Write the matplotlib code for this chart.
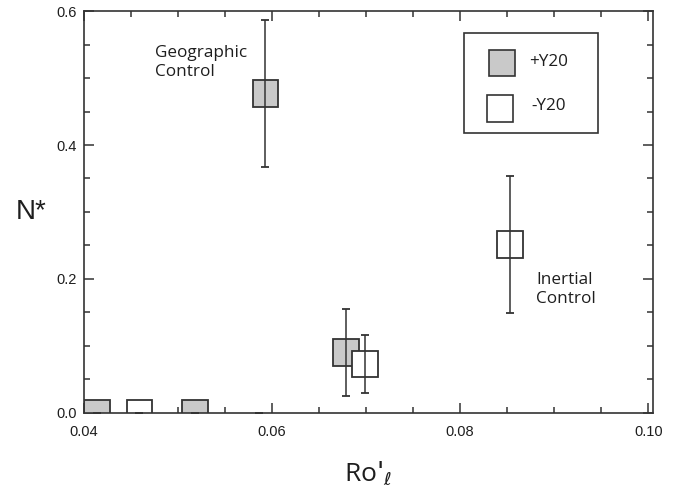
import matplotlib
matplotlib.use('Agg')
import matplotlib.pyplot as plt
from matplotlib.patches import Rectangle
from matplotlib.ticker import MultipleLocator, FormatStrFormatter

# data
plus_x = [0.0414, 0.0518, 0.0593, 0.0679]
plus_y = [0.0, 0.0, 0.477, 0.090]
plus_err = [0.0, 0.0, 0.110, 0.065]

minus_x = [0.0459, 0.0699, 0.0853]
minus_y = [0.0, 0.073, 0.251]
minus_err = [0.0, 0.043, 0.102]

# point at the axis with no visible box (only its cap shows)
extra_x = [0.0586]
extra_y = [0.0]

BOX_W = 0.00275
BOX_H = 0.040
GRAY = '#c9c9c9'
EDGE = '#333333'
TXT = '#1e1e1e'

plt.rcParams['font.family'] = ['Liberation Sans', 'DejaVu Sans']

fig = plt.figure(figsize=(6.85, 4.98), dpi=100)
ax = fig.add_axes([0.1226, 0.1707, 0.8306, 0.8072])

def boxes(xs, ys, face):
    for x, y in zip(xs, ys):
        ax.add_patch(Rectangle((x - BOX_W / 2, y - BOX_H / 2), BOX_W, BOX_H,
                               facecolor=face, edgecolor=EDGE, lw=1.3, zorder=2))

boxes(plus_x, plus_y, GRAY)
boxes(minus_x, minus_y, 'white')

for xs, ys, es in [(plus_x, plus_y, plus_err), (minus_x, minus_y, minus_err),
                   (extra_x, extra_y, [0.0])]:
    ax.errorbar(xs, ys, yerr=es, fmt='none', ecolor=EDGE, elinewidth=1.1,
                capsize=3, capthick=1.3, zorder=3, clip_on=False)

ax.set_xlim(0.04, 0.1005)
ax.set_ylim(0.0, 0.6)
ax.xaxis.set_major_locator(MultipleLocator(0.02))
ax.xaxis.set_minor_locator(MultipleLocator(0.005))
ax.yaxis.set_major_locator(MultipleLocator(0.2))
ax.yaxis.set_minor_locator(MultipleLocator(0.05))
ax.xaxis.set_major_formatter(FormatStrFormatter('%.2f'))
ax.yaxis.set_major_formatter(FormatStrFormatter('%.1f'))
ax.tick_params(which='both', direction='in', top=True, right=True,
               color=EDGE, width=1.1, labelsize=10.5, labelcolor=TXT)
ax.tick_params(which='major', length=7)
ax.tick_params(which='minor', length=4)
ax.tick_params(axis='x', pad=9)
ax.tick_params(axis='y', pad=5)
for s in ax.spines.values():
    s.set_color(EDGE)
    s.set_linewidth(1.2)

ax.set_ylabel('N*', fontsize=20, rotation=0, labelpad=18, va='center', color=TXT)
ax.set_xlabel(r"Ro$'_{\ell}$", fontsize=19, family=['Open Sans', 'DejaVu Sans'],
              labelpad=14, color=TXT)

ax.text(0.0475, 0.523, 'Geographic\nControl', fontsize=12.3, va='center',
        family=['Open Sans', 'DejaVu Sans'], linespacing=1.25, color=TXT)
ax.text(0.0881, 0.185, 'Inertial\nControl', fontsize=12.3, va='center',
        family=['Open Sans', 'DejaVu Sans'], linespacing=1.25, color=TXT)

# legend box drawn by hand
ax.add_patch(Rectangle((0.668, 0.697), 0.235, 0.248, transform=ax.transAxes,
                       facecolor='white', edgecolor=EDGE, lw=1.2, zorder=4))
ax.add_patch(Rectangle((0.711, 0.838), 0.046, 0.065, transform=ax.transAxes,
                       facecolor=GRAY, edgecolor=EDGE, lw=1.2, zorder=5))
ax.add_patch(Rectangle((0.708, 0.725), 0.046, 0.065, transform=ax.transAxes,
                       facecolor='white', edgecolor=EDGE, lw=1.2, zorder=5))
ax.text(0.782, 0.872, '+Y20', transform=ax.transAxes, fontsize=12.3, va='center',
        family=['Open Sans', 'DejaVu Sans'], color=TXT, zorder=6)
ax.text(0.787, 0.764, '-Y20', transform=ax.transAxes, fontsize=12.3, va='center',
        family=['Open Sans', 'DejaVu Sans'], color=TXT, zorder=6)

fig.savefig('out.png', dpi=100)
